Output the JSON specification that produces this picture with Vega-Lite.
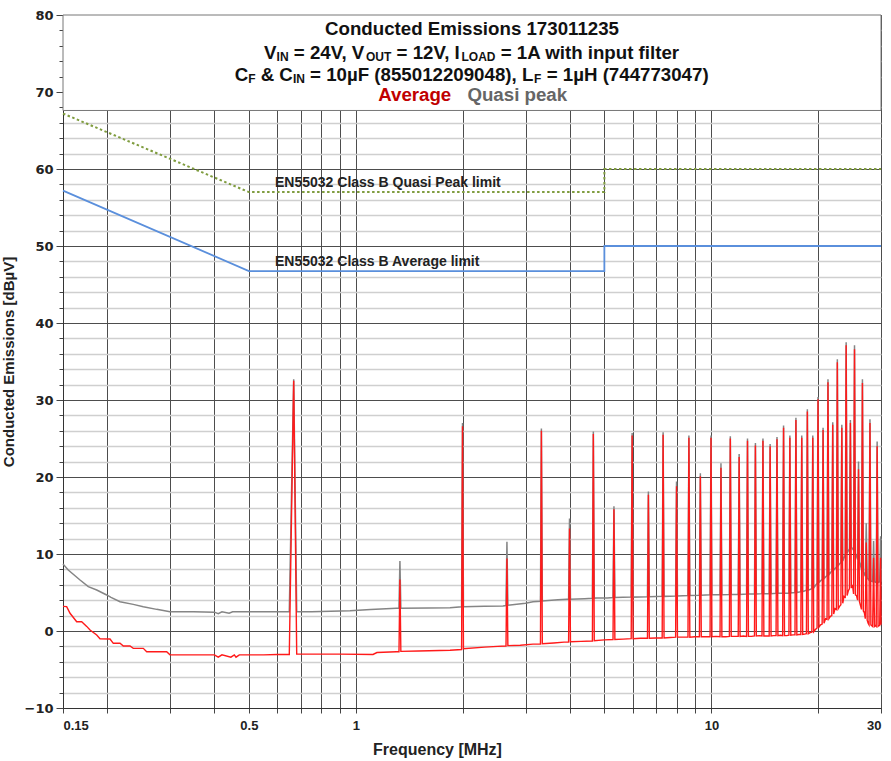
{
  "$schema": "https://vega.github.io/schema/vega-lite/v6.json",
  "width": 818,
  "height": 693,
  "autosize": {"type": "none"},
  "padding": {"left": 63, "top": 15, "right": 10, "bottom": 53},
  "config": {"font": "Liberation Sans", "view": {"stroke": "#444"}},
  "datasets": {
    "meas": [
      {"f":0.15,"db":3.2,"s":"Average"},{"f":0.1536,"db":3.16,"s":"Average"},{"f":0.157,"db":2.3,"s":"Average"},{"f":0.1639,"db":1.2,"s":"Average"},{"f":0.1693,"db":1.2,"s":"Average"},{"f":0.1749,"db":0.6,"s":"Average"},{"f":0.1787,"db":0.13,"s":"Average"},{"f":0.1866,"db":-0.52,"s":"Average"},{"f":0.1906,"db":-1.0,"s":"Average"},{"f":0.2034,"db":-1.04,"s":"Average"},{"f":0.2078,"db":-1.6,"s":"Average"},{"f":0.217,"db":-1.6,"s":"Average"},{"f":0.2217,"db":-1.95,"s":"Average"},{"f":0.2315,"db":-1.95,"s":"Average"},{"f":0.2365,"db":-2.25,"s":"Average"},{"f":0.2523,"db":-2.25,"s":"Average"},{"f":0.258,"db":-2.69,"s":"Average"},{"f":0.2936,"db":-2.69,"s":"Average"},{"f":0.2999,"db":-3.1,"s":"Average"},{"f":0.35,"db":-3.1,"s":"Average"},{"f":0.4,"db":-3.1,"s":"Average"},{"f":0.41,"db":-3.4,"s":"Average"},{"f":0.42,"db":-3.1,"s":"Average"},{"f":0.445,"db":-3.4,"s":"Average"},{"f":0.455,"db":-3.1,"s":"Average"},{"f":0.46,"db":-3.4,"s":"Average"},{"f":0.47,"db":-3.1,"s":"Average"},{"f":0.55,"db":-3.1,"s":"Average"},{"f":0.6,"db":-3.05,"s":"Average"},
      {"f":0.6496,"db":-3.05,"s":"Average"},{"f":0.6684,"db":32.5,"s":"Average"},{"f":0.6816,"db":-3.0,"s":"Average"},
      {"f":0.75,"db":-3.0,"s":"Average"},{"f":0.9,"db":-3.0,"s":"Average"},{"f":1.117,"db":-3.05,"s":"Average"},{"f":1.146,"db":-2.8,"s":"Average"},{"f":1.3,"db":-2.7,"s":"Average"},
      {"f":1.322,"db":-2.7,"s":"Average"},{"f":1.33,"db":6.7,"s":"Average"},{"f":1.338,"db":-2.65,"s":"Average"},
      {"f":1.5,"db":-2.6,"s":"Average"},{"f":1.84,"db":-2.5,"s":"Average"},
      {"f":1.983,"db":-2.4,"s":"Average"},{"f":1.995,"db":26.6,"s":"Average"},{"f":2.007,"db":-2.3,"s":"Average"},
      {"f":2.3,"db":-2.1,"s":"Average"},{"f":2.5,"db":-2.0,"s":"Average"},
      {"f":2.644,"db":-1.95,"s":"Average"},{"f":2.66,"db":9.4,"s":"Average"},{"f":2.676,"db":-1.9,"s":"Average"},
      {"f":2.9,"db":-1.85,"s":"Average"},{"f":3.15,"db":-1.7,"s":"Average"},
      {"f":3.305,"db":-1.7,"s":"Average"},{"f":3.325,"db":26.0,"s":"Average"},{"f":3.345,"db":-1.65,"s":"Average"},
      {"f":3.6,"db":-1.55,"s":"Average"},{"f":3.85,"db":-1.45,"s":"Average"},
      {"f":3.966,"db":-1.43,"s":"Average"},{"f":3.99,"db":13.3,"s":"Average"},{"f":4.014,"db":-1.4,"s":"Average"},
      {"f":4.3,"db":-1.35,"s":"Average"},
      {"f":4.627,"db":-1.3,"s":"Average"},{"f":4.655,"db":25.6,"s":"Average"},{"f":4.683,"db":-1.25,"s":"Average"},
      {"f":5.0,"db":-1.15,"s":"Average"},
      {"f":5.288,"db":-1.1,"s":"Average"},{"f":5.32,"db":15.8,"s":"Average"},{"f":5.352,"db":-1.1,"s":"Average"},{"f":5.65,"db":-1.05,"s":"Average"},
      {"f":5.949,"db":-1.0,"s":"Average"},{"f":5.985,"db":25.4,"s":"Average"},{"f":6.021,"db":-1.0,"s":"Average"},{"f":6.32,"db":-0.95,"s":"Average"},
      {"f":6.61,"db":-0.95,"s":"Average"},{"f":6.65,"db":17.7,"s":"Average"},{"f":6.69,"db":-0.95,"s":"Average"},{"f":6.98,"db":-0.9,"s":"Average"},
      {"f":7.271,"db":-0.9,"s":"Average"},{"f":7.315,"db":25.5,"s":"Average"},{"f":7.359,"db":-0.9,"s":"Average"},{"f":7.65,"db":-0.85,"s":"Average"},
      {"f":7.932,"db":-0.8,"s":"Average"},{"f":7.98,"db":18.8,"s":"Average"},{"f":8.028,"db":-0.8,"s":"Average"},{"f":8.31,"db":-0.8,"s":"Average"},
      {"f":8.593,"db":-0.8,"s":"Average"},{"f":8.645,"db":25.1,"s":"Average"},{"f":8.697,"db":-0.8,"s":"Average"},{"f":8.98,"db":-0.75,"s":"Average"},
      {"f":9.254,"db":-0.75,"s":"Average"},{"f":9.31,"db":20.1,"s":"Average"},{"f":9.366,"db":-0.75,"s":"Average"},{"f":9.64,"db":-0.75,"s":"Average"},
      {"f":9.915,"db":-0.75,"s":"Average"},{"f":9.975,"db":25.1,"s":"Average"},{"f":10.035,"db":-0.75,"s":"Average"},{"f":10.3,"db":-0.7,"s":"Average"},
      {"f":10.576,"db":-0.75,"s":"Average"},{"f":10.64,"db":21.2,"s":"Average"},{"f":10.704,"db":-0.75,"s":"Average"},{"f":10.97,"db":-0.75,"s":"Average"},
      {"f":11.237,"db":-0.7,"s":"Average"},{"f":11.305,"db":25.0,"s":"Average"},{"f":11.373,"db":-0.7,"s":"Average"},{"f":11.64,"db":-0.7,"s":"Average"},
      {"f":11.898,"db":-0.7,"s":"Average"},{"f":11.97,"db":22.6,"s":"Average"},{"f":12.042,"db":-0.7,"s":"Average"},{"f":12.3,"db":-0.65,"s":"Average"},
      {"f":12.559,"db":-0.7,"s":"Average"},{"f":12.635,"db":24.7,"s":"Average"},{"f":12.711,"db":-0.7,"s":"Average"},{"f":12.97,"db":-0.7,"s":"Average"},
      {"f":13.22,"db":-0.65,"s":"Average"},{"f":13.3,"db":24.1,"s":"Average"},{"f":13.38,"db":-0.65,"s":"Average"},{"f":13.63,"db":-0.6,"s":"Average"},
      {"f":13.881,"db":-0.65,"s":"Average"},{"f":13.965,"db":24.7,"s":"Average"},{"f":14.049,"db":-0.65,"s":"Average"},{"f":14.3,"db":-0.65,"s":"Average"},
      {"f":14.542,"db":-0.65,"s":"Average"},{"f":14.63,"db":24.0,"s":"Average"},{"f":14.718,"db":-0.65,"s":"Average"},{"f":14.96,"db":-0.6,"s":"Average"},
      {"f":15.203,"db":-0.6,"s":"Average"},{"f":15.295,"db":24.9,"s":"Average"},{"f":15.387,"db":-0.6,"s":"Average"},{"f":15.63,"db":-0.55,"s":"Average"},
      {"f":15.864,"db":-0.6,"s":"Average"},{"f":15.96,"db":26.4,"s":"Average"},{"f":16.056,"db":-0.6,"s":"Average"},{"f":16.29,"db":-0.6,"s":"Average"},
      {"f":16.525,"db":-0.55,"s":"Average"},{"f":16.625,"db":25.1,"s":"Average"},{"f":16.725,"db":-0.55,"s":"Average"},{"f":16.96,"db":-0.5,"s":"Average"},
      {"f":17.186,"db":-0.5,"s":"Average"},{"f":17.29,"db":27.4,"s":"Average"},{"f":17.394,"db":-0.5,"s":"Average"},{"f":17.62,"db":-0.45,"s":"Average"},
      {"f":17.847,"db":-0.45,"s":"Average"},{"f":17.955,"db":25.1,"s":"Average"},{"f":18.063,"db":-0.45,"s":"Average"},{"f":18.29,"db":-0.4,"s":"Average"},
      {"f":18.508,"db":-0.35,"s":"Average"},{"f":18.62,"db":28.5,"s":"Average"},{"f":18.732,"db":-0.35,"s":"Average"},{"f":18.95,"db":-0.2,"s":"Average"},
      {"f":19.169,"db":-0.15,"s":"Average"},{"f":19.285,"db":25.1,"s":"Average"},{"f":19.401,"db":-0.1,"s":"Average"},{"f":19.62,"db":0.2,"s":"Average"},
      {"f":19.83,"db":0.4,"s":"Average"},{"f":19.95,"db":30.1,"s":"Average"},{"f":20.07,"db":0.5,"s":"Average"},{"f":20.28,"db":0.8,"s":"Average"},
      {"f":20.491,"db":0.9,"s":"Average"},{"f":20.615,"db":26.1,"s":"Average"},{"f":20.739,"db":1.0,"s":"Average"},{"f":20.95,"db":1.6,"s":"Average"},
      {"f":21.152,"db":1.5,"s":"Average"},{"f":21.28,"db":32.3,"s":"Average"},{"f":21.408,"db":1.6,"s":"Average"},{"f":21.61,"db":1.9,"s":"Average"},
      {"f":21.813,"db":2.0,"s":"Average"},{"f":21.945,"db":26.8,"s":"Average"},{"f":22.077,"db":2.2,"s":"Average"},{"f":22.28,"db":2.9,"s":"Average"},
      {"f":22.474,"db":2.8,"s":"Average"},{"f":22.61,"db":34.9,"s":"Average"},{"f":22.746,"db":2.9,"s":"Average"},{"f":22.94,"db":3.2,"s":"Average"},
      {"f":23.135,"db":3.4,"s":"Average"},{"f":23.275,"db":26.4,"s":"Average"},{"f":23.415,"db":3.6,"s":"Average"},{"f":23.61,"db":4.5,"s":"Average"},
      {"f":23.796,"db":4.4,"s":"Average"},{"f":23.94,"db":37.1,"s":"Average"},{"f":24.084,"db":4.6,"s":"Average"},{"f":24.27,"db":5.2,"s":"Average"},
      {"f":24.457,"db":5.5,"s":"Average"},{"f":24.605,"db":27.0,"s":"Average"},{"f":24.753,"db":5.6,"s":"Average"},{"f":24.94,"db":6.0,"s":"Average"},
      {"f":25.118,"db":4.8,"s":"Average"},{"f":25.27,"db":36.6,"s":"Average"},{"f":25.422,"db":4.7,"s":"Average"},{"f":25.6,"db":4.6,"s":"Average"},
      {"f":25.779,"db":4.0,"s":"Average"},{"f":25.935,"db":21.0,"s":"Average"},{"f":26.091,"db":3.8,"s":"Average"},{"f":26.27,"db":3.3,"s":"Average"},
      {"f":26.44,"db":2.8,"s":"Average"},{"f":26.6,"db":32.2,"s":"Average"},{"f":26.76,"db":2.6,"s":"Average"},{"f":26.93,"db":2.4,"s":"Average"},
      {"f":27.101,"db":1.6,"s":"Average"},{"f":27.265,"db":11.5,"s":"Average"},{"f":27.429,"db":1.4,"s":"Average"},{"f":27.6,"db":1.0,"s":"Average"},
      {"f":27.762,"db":0.8,"s":"Average"},{"f":27.93,"db":27.0,"s":"Average"},{"f":28.098,"db":0.8,"s":"Average"},{"f":28.26,"db":0.7,"s":"Average"},
      {"f":28.423,"db":0.6,"s":"Average"},{"f":28.595,"db":9.5,"s":"Average"},{"f":28.767,"db":0.6,"s":"Average"},{"f":28.93,"db":0.7,"s":"Average"},
      {"f":29.084,"db":0.6,"s":"Average"},{"f":29.26,"db":24.0,"s":"Average"},{"f":29.436,"db":0.6,"s":"Average"},{"f":29.59,"db":0.7,"s":"Average"},
      {"f":29.745,"db":0.7,"s":"Average"},{"f":29.925,"db":9.5,"s":"Average"},{"f":30.0,"db":0.8,"s":"Average"},

      {"f":0.15,"db":8.7,"s":"Quasi peak"},{"f":0.1552,"db":7.92,"s":"Quasi peak"},{"f":0.1675,"db":6.62,"s":"Quasi peak"},{"f":0.1767,"db":5.76,"s":"Quasi peak"},{"f":0.1866,"db":5.32,"s":"Quasi peak"},{"f":0.1991,"db":4.68,"s":"Quasi peak"},{"f":0.2047,"db":4.37,"s":"Quasi peak"},{"f":0.217,"db":3.81,"s":"Quasi peak"},{"f":0.2365,"db":3.46,"s":"Quasi peak"},{"f":0.2523,"db":3.16,"s":"Quasi peak"},{"f":0.2752,"db":2.81,"s":"Quasi peak"},{"f":0.2999,"db":2.51,"s":"Quasi peak"},{"f":0.35,"db":2.5,"s":"Quasi peak"},{"f":0.4,"db":2.45,"s":"Quasi peak"},{"f":0.41,"db":2.25,"s":"Quasi peak"},{"f":0.42,"db":2.5,"s":"Quasi peak"},{"f":0.44,"db":2.3,"s":"Quasi peak"},{"f":0.45,"db":2.5,"s":"Quasi peak"},{"f":0.55,"db":2.5,"s":"Quasi peak"},{"f":0.6,"db":2.5,"s":"Quasi peak"},
      {"f":0.6496,"db":2.5,"s":"Quasi peak"},{"f":0.6684,"db":32.7,"s":"Quasi peak"},{"f":0.6816,"db":2.5,"s":"Quasi peak"},
      {"f":0.75,"db":2.5,"s":"Quasi peak"},{"f":0.85,"db":2.55,"s":"Quasi peak"},{"f":0.9627,"db":2.64,"s":"Quasi peak"},{"f":1.1,"db":2.8,"s":"Quasi peak"},{"f":1.3,"db":2.94,"s":"Quasi peak"},
      {"f":1.322,"db":2.94,"s":"Quasi peak"},{"f":1.33,"db":9.1,"s":"Quasi peak"},{"f":1.338,"db":2.95,"s":"Quasi peak"},
      {"f":1.6,"db":3.0,"s":"Quasi peak"},{"f":1.84,"db":3.03,"s":"Quasi peak"},
      {"f":1.983,"db":3.15,"s":"Quasi peak"},{"f":1.995,"db":27.0,"s":"Quasi peak"},{"f":2.007,"db":3.16,"s":"Quasi peak"},
      {"f":2.3,"db":3.2,"s":"Quasi peak"},{"f":2.593,"db":3.25,"s":"Quasi peak"},
      {"f":2.644,"db":3.3,"s":"Quasi peak"},{"f":2.66,"db":11.6,"s":"Quasi peak"},{"f":2.676,"db":3.35,"s":"Quasi peak"},
      {"f":3.0,"db":3.6,"s":"Quasi peak"},{"f":3.149,"db":3.8,"s":"Quasi peak"},
      {"f":3.305,"db":3.85,"s":"Quasi peak"},{"f":3.325,"db":26.3,"s":"Quasi peak"},{"f":3.345,"db":3.9,"s":"Quasi peak"},
      {"f":3.7,"db":4.05,"s":"Quasi peak"},{"f":3.925,"db":4.11,"s":"Quasi peak"},
      {"f":3.966,"db":4.12,"s":"Quasi peak"},{"f":3.99,"db":14.6,"s":"Quasi peak"},{"f":4.014,"db":4.13,"s":"Quasi peak"},
      {"f":4.4,"db":4.2,"s":"Quasi peak"},
      {"f":4.627,"db":4.25,"s":"Quasi peak"},{"f":4.655,"db":25.9,"s":"Quasi peak"},{"f":4.683,"db":4.27,"s":"Quasi peak"},
      {"f":4.767,"db":4.29,"s":"Quasi peak"},{"f":5.1,"db":4.3,"s":"Quasi peak"},
      {"f":5.288,"db":4.35,"s":"Quasi peak"},{"f":5.32,"db":16.2,"s":"Quasi peak"},{"f":5.352,"db":4.35,"s":"Quasi peak"},
      {"f":5.949,"db":4.4,"s":"Quasi peak"},{"f":5.985,"db":25.7,"s":"Quasi peak"},{"f":6.021,"db":4.4,"s":"Quasi peak"},
      {"f":6.61,"db":4.45,"s":"Quasi peak"},{"f":6.65,"db":18.1,"s":"Quasi peak"},{"f":6.69,"db":4.45,"s":"Quasi peak"},
      {"f":7.271,"db":4.5,"s":"Quasi peak"},{"f":7.315,"db":25.8,"s":"Quasi peak"},{"f":7.359,"db":4.5,"s":"Quasi peak"},
      {"f":7.932,"db":4.55,"s":"Quasi peak"},{"f":7.98,"db":19.4,"s":"Quasi peak"},{"f":8.028,"db":4.55,"s":"Quasi peak"},
      {"f":8.593,"db":4.6,"s":"Quasi peak"},{"f":8.645,"db":25.4,"s":"Quasi peak"},{"f":8.697,"db":4.6,"s":"Quasi peak"},
      {"f":9.254,"db":4.65,"s":"Quasi peak"},{"f":9.31,"db":20.5,"s":"Quasi peak"},{"f":9.366,"db":4.65,"s":"Quasi peak"},
      {"f":9.915,"db":4.7,"s":"Quasi peak"},{"f":9.975,"db":25.4,"s":"Quasi peak"},{"f":10.035,"db":4.7,"s":"Quasi peak"},
      {"f":10.576,"db":4.7,"s":"Quasi peak"},{"f":10.64,"db":21.8,"s":"Quasi peak"},{"f":10.704,"db":4.7,"s":"Quasi peak"},
      {"f":11.237,"db":4.75,"s":"Quasi peak"},{"f":11.305,"db":25.3,"s":"Quasi peak"},{"f":11.373,"db":4.75,"s":"Quasi peak"},
      {"f":11.898,"db":4.75,"s":"Quasi peak"},{"f":11.97,"db":23.0,"s":"Quasi peak"},{"f":12.042,"db":4.75,"s":"Quasi peak"},
      {"f":12.559,"db":4.8,"s":"Quasi peak"},{"f":12.635,"db":25.0,"s":"Quasi peak"},{"f":12.711,"db":4.8,"s":"Quasi peak"},
      {"f":13.22,"db":4.8,"s":"Quasi peak"},{"f":13.3,"db":24.4,"s":"Quasi peak"},{"f":13.38,"db":4.8,"s":"Quasi peak"},
      {"f":13.881,"db":4.85,"s":"Quasi peak"},{"f":13.965,"db":25.0,"s":"Quasi peak"},{"f":14.049,"db":4.85,"s":"Quasi peak"},
      {"f":14.542,"db":4.85,"s":"Quasi peak"},{"f":14.63,"db":24.3,"s":"Quasi peak"},{"f":14.718,"db":4.85,"s":"Quasi peak"},
      {"f":15.203,"db":4.9,"s":"Quasi peak"},{"f":15.295,"db":25.2,"s":"Quasi peak"},{"f":15.387,"db":4.9,"s":"Quasi peak"},
      {"f":15.864,"db":4.9,"s":"Quasi peak"},{"f":15.96,"db":26.7,"s":"Quasi peak"},{"f":16.056,"db":4.9,"s":"Quasi peak"},
      {"f":16.525,"db":4.9,"s":"Quasi peak"},{"f":16.625,"db":25.4,"s":"Quasi peak"},{"f":16.725,"db":4.95,"s":"Quasi peak"},
      {"f":17.186,"db":5.0,"s":"Quasi peak"},{"f":17.29,"db":27.7,"s":"Quasi peak"},{"f":17.394,"db":5.0,"s":"Quasi peak"},
      {"f":17.847,"db":5.1,"s":"Quasi peak"},{"f":17.955,"db":25.4,"s":"Quasi peak"},{"f":18.063,"db":5.1,"s":"Quasi peak"},
      {"f":18.508,"db":5.3,"s":"Quasi peak"},{"f":18.62,"db":28.8,"s":"Quasi peak"},{"f":18.732,"db":5.3,"s":"Quasi peak"},
      {"f":19.169,"db":5.5,"s":"Quasi peak"},{"f":19.285,"db":25.4,"s":"Quasi peak"},{"f":19.401,"db":5.6,"s":"Quasi peak"},
      {"f":19.83,"db":6.2,"s":"Quasi peak"},{"f":19.95,"db":30.4,"s":"Quasi peak"},{"f":20.07,"db":6.3,"s":"Quasi peak"},
      {"f":20.491,"db":6.7,"s":"Quasi peak"},{"f":20.615,"db":26.4,"s":"Quasi peak"},{"f":20.739,"db":6.8,"s":"Quasi peak"},
      {"f":21.152,"db":7.2,"s":"Quasi peak"},{"f":21.28,"db":32.7,"s":"Quasi peak"},{"f":21.408,"db":7.3,"s":"Quasi peak"},
      {"f":21.813,"db":7.8,"s":"Quasi peak"},{"f":21.945,"db":27.1,"s":"Quasi peak"},{"f":22.077,"db":7.9,"s":"Quasi peak"},
      {"f":22.474,"db":8.3,"s":"Quasi peak"},{"f":22.61,"db":35.3,"s":"Quasi peak"},{"f":22.746,"db":8.5,"s":"Quasi peak"},
      {"f":23.135,"db":8.9,"s":"Quasi peak"},{"f":23.275,"db":26.8,"s":"Quasi peak"},{"f":23.415,"db":9.1,"s":"Quasi peak"},
      {"f":23.796,"db":9.9,"s":"Quasi peak"},{"f":23.94,"db":37.5,"s":"Quasi peak"},{"f":24.084,"db":10.1,"s":"Quasi peak"},
      {"f":24.457,"db":10.7,"s":"Quasi peak"},{"f":24.605,"db":27.4,"s":"Quasi peak"},{"f":24.753,"db":10.9,"s":"Quasi peak"},
      {"f":25.118,"db":10.5,"s":"Quasi peak"},{"f":25.27,"db":37.1,"s":"Quasi peak"},{"f":25.422,"db":10.1,"s":"Quasi peak"},
      {"f":25.779,"db":9.3,"s":"Quasi peak"},{"f":25.935,"db":22.0,"s":"Quasi peak"},{"f":26.091,"db":9.0,"s":"Quasi peak"},
      {"f":26.44,"db":8.0,"s":"Quasi peak"},{"f":26.6,"db":32.7,"s":"Quasi peak"},{"f":26.76,"db":7.7,"s":"Quasi peak"},
      {"f":27.101,"db":7.1,"s":"Quasi peak"},{"f":27.265,"db":14.0,"s":"Quasi peak"},{"f":27.429,"db":6.9,"s":"Quasi peak"},
      {"f":27.762,"db":6.6,"s":"Quasi peak"},{"f":27.93,"db":27.5,"s":"Quasi peak"},{"f":28.098,"db":6.5,"s":"Quasi peak"},
      {"f":28.423,"db":6.4,"s":"Quasi peak"},{"f":28.595,"db":11.7,"s":"Quasi peak"},{"f":28.767,"db":6.4,"s":"Quasi peak"},
      {"f":29.084,"db":6.3,"s":"Quasi peak"},{"f":29.26,"db":24.6,"s":"Quasi peak"},{"f":29.436,"db":6.3,"s":"Quasi peak"},
      {"f":29.745,"db":6.4,"s":"Quasi peak"},{"f":29.925,"db":12.3,"s":"Quasi peak"},{"f":30.0,"db":6.4,"s":"Quasi peak"}
    ],
    "limits": [
      {"f":0.15,"db":67.2,"s":"QP","i":1},{"f":0.5,"db":57.0,"s":"QP","i":2},{"f":5,"db":57.0,"s":"QP","i":3},{"f":5,"db":60.0,"s":"QP","i":4},{"f":30,"db":60.0,"s":"QP","i":5},
      {"f":0.15,"db":57.2,"s":"AV","i":1},{"f":0.5,"db":46.75,"s":"AV","i":2},{"f":5,"db":46.75,"s":"AV","i":3},{"f":5,"db":50.0,"s":"AV","i":4},{"f":30,"db":50.0,"s":"AV","i":5}
    ],
    "box": [
      {"lo": 67.6, "hi": 80, "left": 0.15, "right": 30}
    ],
    "ann": [
      {"f":2.1213,"db":77.34,"t":"Conducted Emissions 173011235","k":"center"},
      {"f":0.5518,"db":74.35,"t":"V","k":"main"},
      {"f":0.5983,"db":74.09,"t":"IN","k":"sub"},
      {"f":0.6689,"db":74.35,"t":"= 24V, V","k":"main"},
      {"f":1.0676,"db":74.09,"t":"OUT","k":"sub"},
      {"f":1.3017,"db":74.35,"t":"= 12V, I","k":"main"},
      {"f":1.9818,"db":74.09,"t":"LOAD","k":"sub"},
      {"f":2.5547,"db":74.35,"t":"= 1A with input filter","k":"main"},
      {"f":0.456,"db":71.49,"t":"C","k":"main"},
      {"f":0.4976,"db":71.23,"t":"F","k":"sub"},
      {"f":0.5397,"db":71.49,"t":"& C","k":"main"},
      {"f":0.6649,"db":71.23,"t":"IN","k":"sub"},
      {"f":0.7433,"db":71.49,"t":"= 10µF (855012209048), L","k":"main"},
      {"f":3.1715,"db":71.23,"t":"F","k":"sub"},
      {"f":3.4409,"db":71.49,"t":"= 1µH (744773047)","k":"main"},
      {"f":1.1554,"db":68.83,"t":"Average","k":"avg"},
      {"f":2.0589,"db":68.83,"t":"Quasi peak","k":"qp"},
      {"f":0.5922,"db":57.62,"t":"EN55032 Class B Quasi Peak limit","k":"lim"},
      {"f":0.5922,"db":47.4,"t":"EN55032 Class B Average limit","k":"lim"}
    ]
  },
  "encoding": {
    "x": {
      "field": "f", "type": "quantitative",
      "scale": {"type": "log", "domain": [0.15, 30], "nice": false},
      "axis": {
        "values": [0.15,0.2,0.3,0.4,0.5,0.6,0.7,0.8,0.9,1,2,3,4,5,6,7,8,9,10,20,30],
        "format": "~g",
        "labelExpr": "indexof([0.15,0.5,1,10,30], datum.value) >= 0 ? datum.label : ''",
        "grid": true, "gridColor": "#4d4d4d", "gridWidth": 1,
        "tickColor": "#444", "tickSize": 5, "domainColor": "#333",
        "labelFont": "Liberation Sans", "labelFontSize": 13, "labelFontWeight": "bold", "labelColor": "#222", "labelPadding": 6,
        "title": "Frequency [MHz]", "titleFont": "Liberation Sans", "titleFontSize": 16, "titleFontWeight": "bold", "titleColor": "#222",
        "titleX": 374, "titleY": 46, "titleBaseline": "alphabetic"
      }
    },
    "y": {
      "field": "db", "type": "quantitative",
      "scale": {"domain": [-10, 80], "nice": false, "zero": false},
      "axis": {
        "values": [-10,-8,-6,-4,-2,0,2,4,6,8,10,12,14,16,18,20,22,24,26,28,30,32,34,36,38,40,42,44,46,48,50,52,54,56,58,60,62,64,66,68,70,72,74,76,78,80],
        "labelExpr": "datum.value % 10 === 0 ? datum.label : ''",
        "grid": true,
        "gridColor": {"condition": {"test": "datum.value % 10 === 0", "value": "#4d4d4d"}, "value": "#cfcfcf"},
        "gridWidth": {"condition": {"test": "datum.value % 10 === 0", "value": 1}, "value": 1.5},
        "tickSize": {"condition": {"test": "datum.value % 10 === 0", "value": 7}, "value": 4},
        "tickColor": "#444", "domainColor": "#333",
        "labelFont": "DejaVu Sans", "labelFontSize": 13, "labelFontWeight": "bold", "labelColor": "#222", "labelPadding": 3,
        "title": "Conducted Emissions [dBµV]", "titleFont": "Liberation Sans", "titleFontSize": 15, "titleFontWeight": "bold", "titleColor": "#222", "titlePadding": 8
      }
    }
  },
  "layer": [
    {
      "data": {"name": "box"},
      "mark": {"type": "rect", "fill": "white", "stroke": "#777", "strokeWidth": 1},
      "encoding": {
        "x": {"field": "left", "type": "quantitative"},
        "x2": {"field": "right"},
        "y": {"field": "lo", "type": "quantitative"},
        "y2": {"field": "hi"}
      }
    },
    {
      "data": {"name": "limits"},
      "transform": [{"filter": "datum.s === 'QP'"}],
      "mark": {"type": "line", "color": "#7f9c3e", "strokeWidth": 2, "strokeDash": [2.5, 2.5]},
      "encoding": {"order": {"field": "i", "type": "quantitative"}}
    },
    {
      "data": {"name": "limits"},
      "transform": [{"filter": "datum.s === 'AV'"}],
      "mark": {"type": "line", "color": "#5a8fdc", "strokeWidth": 1.8},
      "encoding": {"order": {"field": "i", "type": "quantitative"}}
    },
    {
      "data": {"name": "meas"},
      "transform": [{"filter": "datum.s === 'Quasi peak'"}],
      "mark": {"type": "line", "color": "#858585", "strokeWidth": 1.5},
      "encoding": {}
    },
    {
      "data": {"name": "meas"},
      "transform": [{"filter": "datum.s === 'Average'"}],
      "mark": {"type": "line", "color": "#ff1a1a", "strokeWidth": 1.4},
      "encoding": {}
    },
    {
      "data": {"name": "ann"},
      "transform": [{"filter": "datum.k === 'center'"}],
      "mark": {"type": "text", "align": "center", "baseline": "alphabetic", "font": "Liberation Sans", "fontSize": 18.7, "fontWeight": "bold", "color": "#111"},
      "encoding": {"text": {"field": "t"}}
    },
    {
      "data": {"name": "ann"},
      "transform": [{"filter": "datum.k === 'main'"}],
      "mark": {"type": "text", "align": "left", "baseline": "alphabetic", "font": "Liberation Sans", "fontSize": 18.7, "fontWeight": "bold", "color": "#111"},
      "encoding": {"text": {"field": "t"}}
    },
    {
      "data": {"name": "ann"},
      "transform": [{"filter": "datum.k === 'sub'"}],
      "mark": {"type": "text", "align": "left", "baseline": "alphabetic", "font": "Liberation Sans", "fontSize": 12, "fontWeight": "bold", "color": "#111"},
      "encoding": {"text": {"field": "t"}}
    },
    {
      "data": {"name": "ann"},
      "transform": [{"filter": "datum.k === 'avg'"}],
      "mark": {"type": "text", "align": "left", "baseline": "alphabetic", "font": "Liberation Sans", "fontSize": 18.7, "fontWeight": "bold", "color": "#c00000"},
      "encoding": {"text": {"field": "t"}}
    },
    {
      "data": {"name": "ann"},
      "transform": [{"filter": "datum.k === 'qp'"}],
      "mark": {"type": "text", "align": "left", "baseline": "alphabetic", "font": "Liberation Sans", "fontSize": 18.7, "fontWeight": "bold", "color": "#666666"},
      "encoding": {"text": {"field": "t"}}
    },
    {
      "data": {"name": "ann"},
      "transform": [{"filter": "datum.k === 'lim'"}],
      "mark": {"type": "text", "align": "left", "baseline": "alphabetic", "font": "Liberation Sans", "fontSize": 14, "fontWeight": "bold", "color": "#222"},
      "encoding": {"text": {"field": "t"}}
    }
  ]
}
